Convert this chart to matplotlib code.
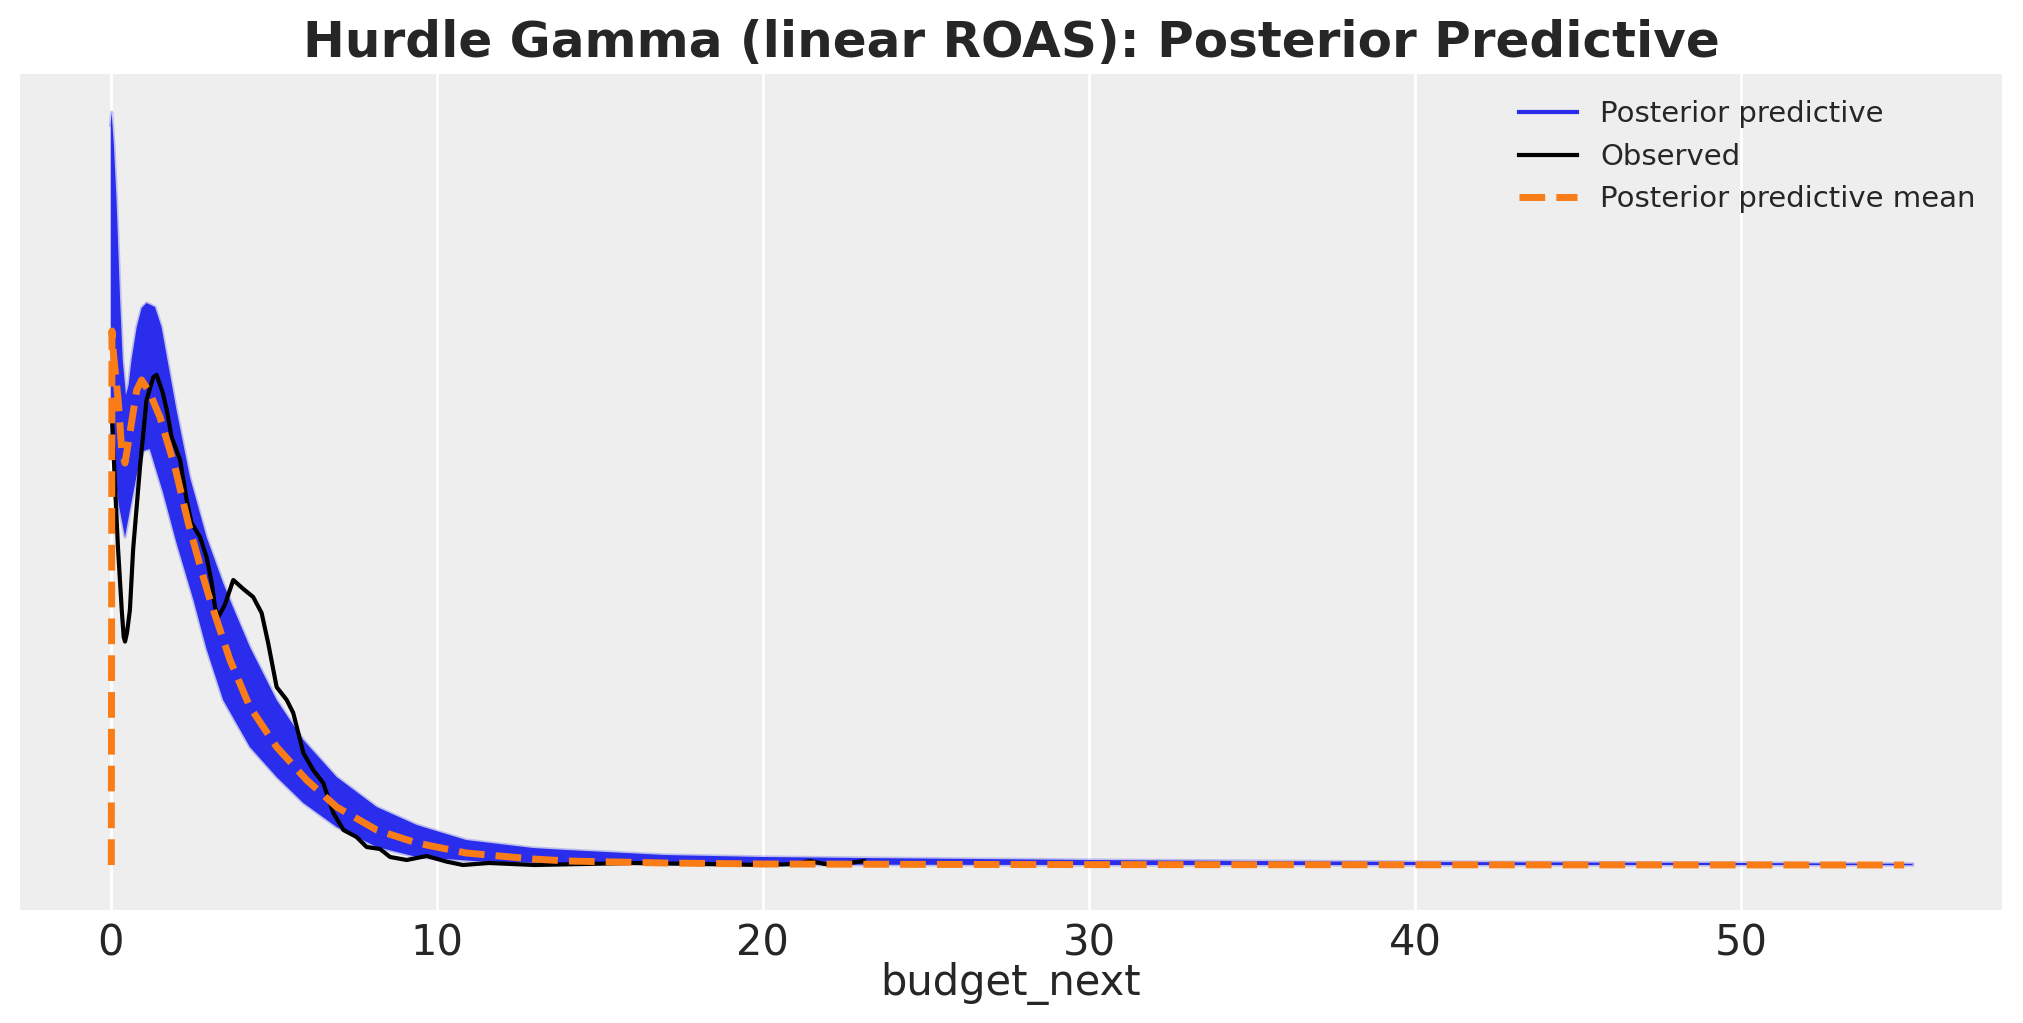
import matplotlib.pyplot as plt
from matplotlib.lines import Line2D
import numpy as np

# Farben im Stil von arviz-darkgrid
BLUE = "#2a2eec"
ORANGE = "#fa7c17"
TEXT = "#262626"

# Band der Posterior-Predictive-Ziehungen (obere / untere Huelle)
up_x = [0.0, 0.03, 0.10, 0.18, 0.29, 0.37, 0.47, 0.55, 0.64, 0.80, 0.95, 1.10,
        1.36, 1.56, 1.77, 2.02, 2.43, 2.94, 3.45, 3.75, 4.27, 5.09, 5.91, 6.93,
        8.16, 9.39, 10.9, 12.95, 14.0, 17.0, 20.0, 23.0, 30.0, 40.0, 50.0, 55.25]
up_y = [0.37, 0.3765, 0.36, 0.3325, 0.2825, 0.2525, 0.235, 0.24, 0.2525, 0.269,
        0.2785, 0.281, 0.279, 0.269, 0.25, 0.2275, 0.194, 0.164, 0.141, 0.129,
        0.109, 0.0825, 0.0625, 0.044, 0.029, 0.02, 0.0125, 0.0085, 0.0075, 0.005,
        0.004, 0.0035, 0.0025, 0.0015, 0.001, 0.0005]

lo_x = [0.0, 0.10, 0.25, 0.44, 0.60, 0.80, 1.00, 1.20, 1.61, 2.02, 2.54, 2.94,
        3.45, 4.27, 5.09, 5.91, 6.93, 8.16, 9.39, 11.4, 13.5, 20.0, 30.0, 55.25]
lo_y = [0.215, 0.2, 0.18, 0.164, 0.178, 0.195, 0.207, 0.208, 0.186, 0.161,
        0.1325, 0.108, 0.0825, 0.059, 0.044, 0.031, 0.019, 0.009, 0.004, 0.0017,
        0.001, 0.0002, 0.0, 0.0]

# Beobachtete Dichte
obs_x = [0.03, 0.12, 0.22, 0.34, 0.40, 0.44, 0.50, 0.59, 0.69, 0.90, 1.10, 1.31,
         1.41, 1.60, 1.72, 1.87, 2.13, 2.33, 2.48, 2.74, 2.94, 3.10, 3.20, 3.30,
         3.50, 3.76, 4.07, 4.37, 4.63, 4.83, 5.09, 5.40, 5.60, 5.91, 6.21, 6.52,
         6.83, 7.14, 7.54, 7.85, 8.26, 8.57, 9.08, 9.69, 10.3, 10.8, 11.6, 13.0,
         16.0, 20.1, 21.0, 21.45, 21.9, 22.2, 23.1]
obs_y = [0.2275, 0.195, 0.16, 0.1275, 0.114, 0.1117, 0.116, 0.1275, 0.158,
         0.199, 0.2325, 0.244, 0.245, 0.236, 0.2275, 0.214, 0.2025, 0.1825, 0.171,
         0.164, 0.154, 0.141, 0.129, 0.124, 0.13, 0.1425, 0.138, 0.134, 0.126,
         0.111, 0.089, 0.0825, 0.076, 0.056, 0.0475, 0.041, 0.026, 0.0175, 0.014,
         0.009, 0.008, 0.004, 0.0025, 0.0045, 0.0017, 0.0, 0.001, 0.0, 0.001, 0.0,
         0.0005, 0.002, 0.0005, 0.0, 0.002]

# Mittelwert der Posterior-Predictive-Ziehungen
mean_x = [0.02, 0.04, 0.09, 0.23, 0.34, 0.44, 0.59, 0.80, 0.95, 1.20, 1.51, 1.97,
          2.38, 2.84, 3.05, 3.66, 4.27, 5.09, 6.01, 6.93, 8.16, 9.39, 10.9, 12.95,
          14.0, 17.0, 20.0, 25.0, 30.0, 40.0, 55.0]
mean_y = [0.0, 0.267, 0.255, 0.2325, 0.2075, 0.201, 0.216, 0.2375, 0.2425, 0.236,
          0.224, 0.199, 0.171, 0.144, 0.1325, 0.1025, 0.079, 0.059, 0.0425, 0.029,
          0.0175, 0.011, 0.006, 0.003, 0.002, 0.001, 0.0005, 0.0003, 0.0002,
          0.0001, 0.0]

fig = plt.figure(figsize=(2023 / 200, 1023 / 200), dpi=200)
ax = fig.add_axes([20 / 2023, 1 - 910 / 1023, 1982 / 2023, 836 / 1023])
ax.set_facecolor("#eeeeee")
for s in ax.spines.values():
    s.set_visible(False)

# Band der Ziehungen
ax.fill(np.r_[up_x, lo_x[::-1]], np.r_[up_y, lo_y[::-1]], color=BLUE, lw=0, zorder=2)
ax.plot(up_x, up_y, color=BLUE, alpha=0.25, lw=1.2, zorder=2)
ax.plot(lo_x, lo_y, color=BLUE, alpha=0.25, lw=1.2, zorder=2)

ax.plot(obs_x, obs_y, color="black", lw=1.5, zorder=3)
ax.plot(mean_x, mean_y, color=ORANGE, lw=2.5, ls="--", zorder=4)

ax.set_xlim(-2.78, 58.0)
ax.set_ylim(-0.0225, 0.3955)
ax.set_yticks([])
ax.set_xticks([0, 10, 20, 30, 40, 50])
ax.tick_params(axis="x", length=0, labelsize=15, labelcolor=TEXT, pad=4.5)
ax.grid(axis="x", color="white", lw=1.0, zorder=1)
ax.set_axisbelow(True)

ax.set_xlabel("budget_next", fontsize=15, color=TEXT, labelpad=-1)
ax.set_title("Hurdle Gamma (linear ROAS): Posterior Predictive",
             fontsize=18, fontweight="bold", color=TEXT)

handles = [Line2D([], [], color=BLUE, lw=1.5),
           Line2D([], [], color="black", lw=1.5),
           Line2D([], [], color=ORANGE, lw=2.5, ls="--")]
labels = ["Posterior predictive", "Observed", "Posterior predictive mean"]
ax.legend(handles, labels, loc="upper right", frameon=False, fontsize=10.5,
          labelcolor=TEXT)

fig.savefig("out.png", dpi=200)
